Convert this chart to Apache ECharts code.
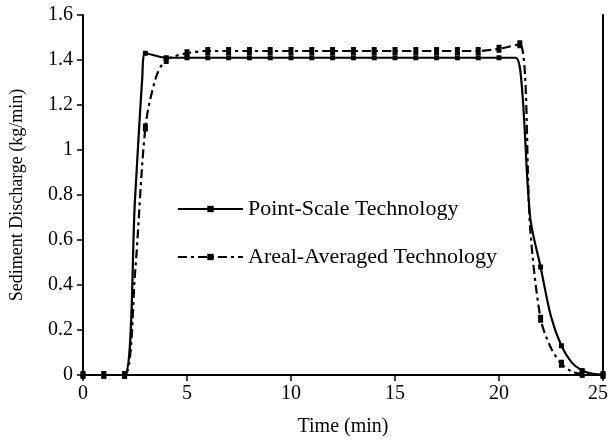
<!DOCTYPE html>
<html><head><meta charset="utf-8">
<script src="https://cdn.jsdelivr.net/npm/echarts@6/dist/echarts.min.js"></script>
<style>html,body{margin:0;padding:0;background:#fff}#c{width:611px;height:442px}</style>
</head><body><div id="c"></div>
<script>
// Time (min)
const pointTime  = [0,1,2,2.5,2.85,3,4,5,6,7,8,9,10,11,12,13,14,15,16,17,18,19,20,20.8,21.1,21.5,22,22.5,23,23.5,24,24.5,25];
const pointValue = [0,0,0,0.78,1.32,1.43,1.41,1.41,1.41,1.41,1.41,1.41,1.41,1.41,1.41,1.41,1.41,1.41,1.41,1.41,1.41,1.41,1.41,1.41,1.28,0.70,0.48,0.26,0.13,0.055,0.02,0.005,0];
const arealTime  = [0,1,2,2.5,3,3.5,4,5,6,7,8,9,10,11,12,13,14,15,16,17,18,19,20,21,21.5,22,22.5,23,23.5,24,25];
const arealValue = [0,0,0,0.45,1.10,1.32,1.40,1.43,1.44,1.44,1.44,1.44,1.44,1.44,1.44,1.44,1.44,1.44,1.44,1.44,1.44,1.44,1.45,1.47,0.65,0.25,0.12,0.05,0.015,0.005,0];
const xTicks = [0,5,10,15,20,25];
const yTicks = [0,0.2,0.4,0.6,0.8,1,1.2,1.4,1.6];

const font = 'Liberation Serif';
const zip = (a,b) => a.map((t,i)=>[t,b[i]]);
const markSize = (s) => (v) => Number.isInteger(v[0]) ? s : 0;

const chart = echarts.init(document.getElementById('c'));
chart.setOption({
  backgroundColor:'#fff',
  animation:false,
  grid:{left:83,right:8,top:15,bottom:67,containLabel:false,outerBoundsMode:'none'},
  legend:{
    orient:'vertical', left:172, top:193, itemWidth:65, itemHeight:8, itemGap:26,
    textStyle:{fontFamily:font,fontSize:22,color:'#000'},
    data:['Point-Scale Technology','Areal-Averaged Technology']
  },
  xAxis:{
    type:'value', min:0, max:25, interval:5,
    name:'Time (min)', nameLocation:'middle', nameGap:42,
    nameTextStyle:{fontFamily:font,fontSize:20,color:'#000'},
    axisLine:{lineStyle:{color:'#000',width:2}},
    axisTick:{show:true,inside:false,length:6,lineStyle:{color:'#000',width:1.5}},
    axisLabel:{fontFamily:font,fontSize:20,color:'#000',margin:9,
      formatter:(v)=> !xTicks.includes(v) ? '' : (v===25 ? '{r|25}' : String(v)),
      rich:{r:{fontFamily:font,fontSize:20,color:'#000',padding:[0,10,0,0]}}},
    splitLine:{show:false}
  },
  yAxis:[{
    type:'value', min:0, max:1.6, interval:0.2,
    name:'Sediment Discharge (kg/min)', nameLocation:'middle', nameGap:57,
    nameTextStyle:{fontFamily:font,fontSize:18,color:'#000'},
    axisLine:{show:true,lineStyle:{color:'#000',width:2}},
    axisTick:{show:true,inside:false,length:6,lineStyle:{color:'#000',width:1.5}},
    axisLabel:{fontFamily:font,fontSize:20,color:'#000',margin:10,
      formatter:(v)=>{const r=Math.round(v*10)/10; return yTicks.includes(r)? String(r):'';}},
    splitLine:{show:false}
  },{
    type:'value', min:0, max:1.6, position:'right',
    axisLine:{show:true,lineStyle:{color:'#000',width:2}},
    axisTick:{show:false}, axisLabel:{show:false}, splitLine:{show:false}
  }],
  series:[{
    name:'Point-Scale Technology', type:'line', smooth:0.3,
    data: zip(pointTime, pointValue),
    symbol:'rect', symbolSize: markSize(5),
    itemStyle:{color:'#000'},
    lineStyle:{color:'#000',width:2.2,type:'solid'}
  },{
    name:'Areal-Averaged Technology', type:'line', smooth:0.3,
    data: zip(arealTime, arealValue),
    symbol:'rect', symbolSize: markSize([5,8]),
    itemStyle:{color:'#000'},
    lineStyle:{color:'#000',width:2.2,type:[9,4,3,4]}
  }]
});
</script></body></html>
